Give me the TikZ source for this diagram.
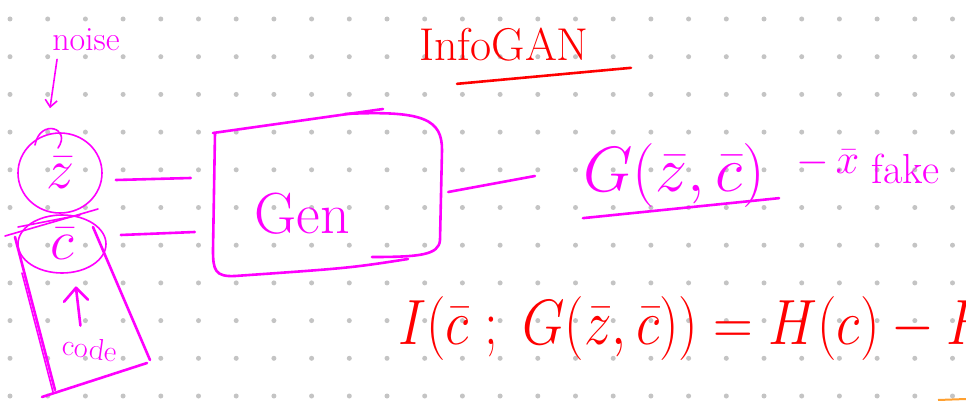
\RequirePackage{fix-cm}
\documentclass[tikz,border=0pt]{standalone}
\usetikzlibrary{shapes.geometric,arrows.meta,calc}
\definecolor{mag}{HTML}{FF00FF}
\definecolor{inkred}{HTML}{FF0000}
\definecolor{dotgray}{HTML}{C4C4C4}
\definecolor{inkorange}{HTML}{FFA030}
\begin{document}
\begin{tikzpicture}[x=1pt,y=-1pt,
  pen/.style={draw=mag,line width=2.6pt,line cap=round,line join=round},
  thinpen/.style={draw=mag,line width=1.6pt,line cap=round},
  redpen/.style={draw=inkred,line width=2.6pt,line cap=round},
  magtext/.style={text=mag,inner sep=0pt},
  redtext/.style={text=inkred,inner sep=0pt},
  bubble/.style={ellipse,draw=mag,line width=1.6pt,inner sep=0pt,text=mag}]
\useasboundingbox (0,0) rectangle (966,401);
\clip (0,0) rectangle (966,401);
\fill[white] (0,0) rectangle (966,401);
% dot grid
\foreach \i in {0,...,25}{\foreach \j in {0,...,10}{
  \fill[dotgray] ({10+37.7*\i},{19+37.7*\j}) circle (2.5pt);}}
% title
\node[redtext,font=\fontsize{46}{46}\selectfont] (title) at (504,45) {InfoGAN};
\draw[redpen] ($(title.south west)+(38,22)$) -- ($(title.south east)+(42,6)$);
% noise
\node[magtext,font=\fontsize{34}{34}\selectfont] (noise) at (86,40) {noise};
\node[bubble,minimum width=84pt,minimum height=80pt,font=\fontsize{56}{56}\selectfont] (z) at (60,173) {$\bar{z}$};
\node[bubble,minimum width=88pt,minimum height=58pt,font=\fontsize{56}{56}\selectfont] (c) at (62,244) {$\bar{c}$};
\draw[thinpen,-{Straight Barb[length=7pt,width=12pt]}] ($(noise.south west)+(5,8)$) -- ($(z.north)+(-10,-24)$);
\draw[thinpen] (58,148) .. controls (72,128) and (40,118) .. (35,145);
% code box
\draw[pen] (15,237) -- (55,390);
\draw[thinpen] (22,273) -- (53,392);
\draw[pen] (93,227) -- (150,360);
\draw[pen] (42,397) -- (147,363);
\draw[thinpen] (5,236) -- (98,209);
\draw[thinpen] (18,227) -- (80,215);
\node[magtext,font=\fontsize{30}{30}\selectfont,rotate=-8] (code) at (90,348) {code};
\draw[pen] ($(code.north west)+(16,-8)$) -- ($(c.south)+(14,14)$);
\draw[pen] ($(c.south)+(2,28)$) -- ($(c.south)+(14,14)$) -- ($(c.south)+(26,26)$);
% generator box
\node[minimum width=228pt,minimum height=140pt,inner sep=0pt] (gen) at (327,200) {};
\node[magtext,font=\fontsize{58}{58}\selectfont] (gentext) at (302,214) {Gen};
\draw[pen] (213,133) -- (383,109);
\draw[pen] (345,114) .. controls (425,110) and (442,120) .. (442,150) -- (440,240) .. controls (439,255) and (420,257) .. (372,257);
\draw[pen] (408,259) .. controls (350,268) .. (235,276) .. controls (215,277) and (213,270) .. (213,250) -- (215,133);
% output
\node[magtext,font=\fontsize{64}{64}\selectfont] (out) at (674,176) {$G(\bar{z},\bar{c})$};
\draw[pen] ($(out.south west)+(0,10)$) -- ($(out.south east)+(14,-10)$);
\node[magtext,font=\fontsize{42}{42}\selectfont,anchor=west] (fake) at (796,166) {$-\,\bar{x}$\raisebox{-10pt}{ fake}};
% connectors
\draw[pen] ($(z.east)+(13,7)$) -- ($(z.east -| gen.west)+(-22,5)$);
\draw[pen] ($(c.east)+(14,-9)$) -- ($(c.east -| gen.west)+(-18,-12)$);
\draw[pen] ($(gen.east)+(7,-8)$) -- ($(out.west)+(-48,0)$);
% equation
\node[redtext,font=\fontsize{64}{64}\selectfont,anchor=west,xscale=0.86] (eq) at (398,328) {$I(\bar{c}\;;\;G(\bar{z},\bar{c}))=H(c)-H$};
\draw[draw=inkorange,line width=2pt] (938,400) -- (966,399);
\end{tikzpicture}
\end{document}
